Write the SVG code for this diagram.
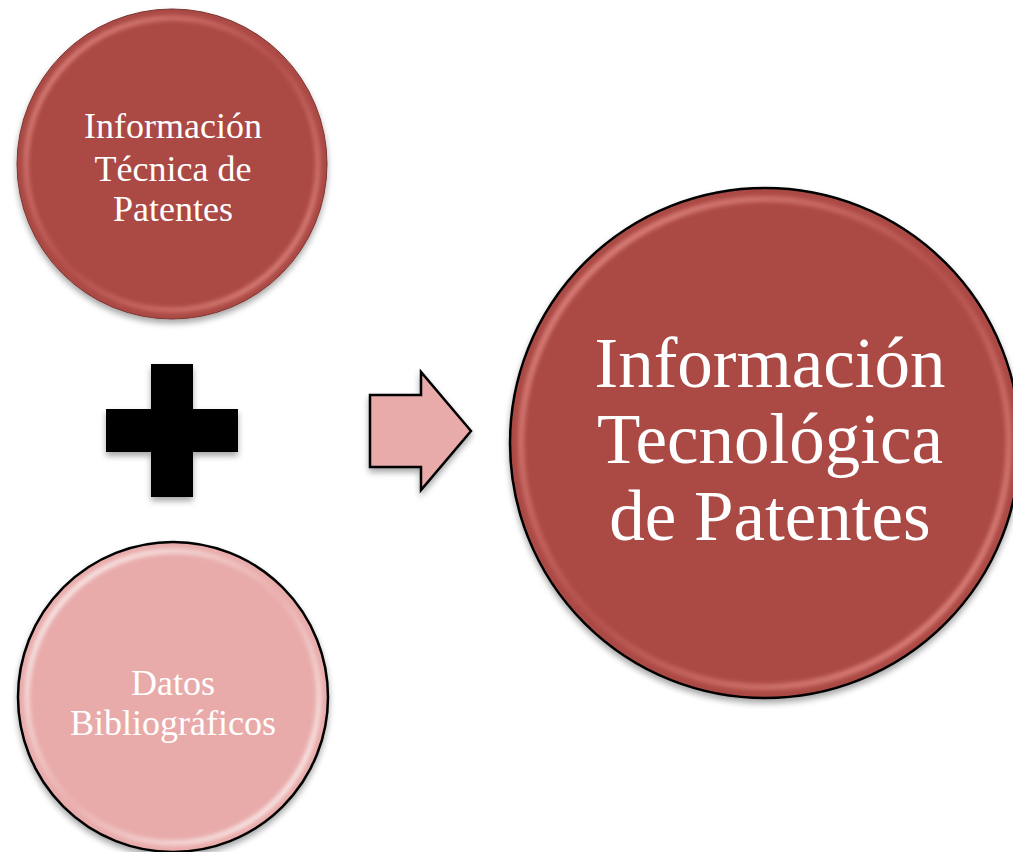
<svg xmlns="http://www.w3.org/2000/svg" width="1013" height="852" viewBox="0 0 1013 852">
<defs>
<filter id="sh" x="-10%" y="-10%" width="120%" height="125%">
<feGaussianBlur in="SourceAlpha" stdDeviation="3"/>
<feOffset dx="0" dy="4" result="b"/>
<feComponentTransfer><feFuncA type="linear" slope="0.35"/></feComponentTransfer>
<feMerge><feMergeNode/><feMergeNode in="SourceGraphic"/></feMerge>
</filter>
<filter id="blur" x="-10%" y="-10%" width="120%" height="120%"><feGaussianBlur stdDeviation="2"/></filter>
<linearGradient id="rimR" x1="0" y1="0" x2="1" y2="1">
<stop offset="0" stop-color="#e8918a"/><stop offset="0.5" stop-color="#b5524c"/><stop offset="1" stop-color="#e8918a"/>
</linearGradient>
<linearGradient id="rimP" x1="0" y1="0" x2="1" y2="1">
<stop offset="0" stop-color="#ffffff"/><stop offset="0.5" stop-color="#eab3b1"/><stop offset="1" stop-color="#ffffff"/>
</linearGradient>
</defs>
<style>
.t{font-family:"Liberation Serif","Times New Roman",serif;fill:#ffffff;text-anchor:middle}
.red{fill:#ab4a45}
.pink{fill:#e8abaa}
</style>
<rect width="1013" height="852" fill="#ffffff"/>
<g id="node-tecnica">
<circle cx="172" cy="164" r="155" class="red" stroke="#7a3532" stroke-width="1" filter="url(#sh)"/>
<circle cx="172" cy="164" r="146" fill="none" stroke="url(#rimR)" stroke-width="5" filter="url(#blur)"/>
<text class="t" font-size="36"><tspan x="173" y="138">Información</tspan><tspan x="173" y="181">Técnica de</tspan><tspan x="173" y="221">Patentes</tspan></text>
</g>
<g id="node-datos">
<circle cx="173" cy="697" r="155" class="pink" stroke="#000000" stroke-width="2.5" filter="url(#sh)"/>
<circle cx="173" cy="697" r="146" fill="none" stroke="url(#rimP)" stroke-width="5" filter="url(#blur)"/>
<text class="t" font-size="36"><tspan x="173" y="695">Datos</tspan><tspan x="173" y="735">Bibliográficos</tspan></text>
</g>
<g id="plus">
<path d="M151,364 H193 V409 H238 V452 H193 V497 H151 V452 H106 V409 H151 Z" fill="#000000" filter="url(#sh)"/>
</g>
<g id="connectors">
<path d="M370,395 H421 V372 L471,431 L421,490 V467 H370 Z" fill="#e8abaa" stroke="#000000" stroke-width="2.5" stroke-linejoin="miter" filter="url(#sh)"/>
</g>
<g id="node-tecnologica">
<circle cx="765" cy="443" r="255" class="red" stroke="#000000" stroke-width="2.5" filter="url(#sh)"/>
<circle cx="765" cy="443" r="244" fill="none" stroke="url(#rimR)" stroke-width="6" filter="url(#blur)"/>
<text class="t" font-size="71"><tspan x="770" y="387">Información</tspan><tspan x="770" y="463">Tecnológica</tspan><tspan x="770" y="540">de Patentes</tspan></text>
</g>
</svg>
